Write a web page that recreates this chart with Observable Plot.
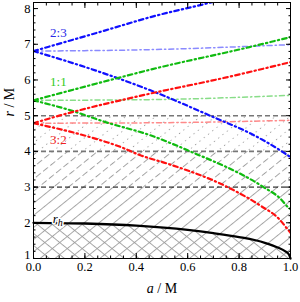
<!DOCTYPE html>
<html><head><meta charset="utf-8">
<script src="https://cdn.jsdelivr.net/npm/d3@7"></script>
<script src="https://cdn.jsdelivr.net/npm/@observablehq/plot@0.6"></script>
<style>body{margin:0;background:#fff} #chart svg{display:block;background:#fff}</style>
</head><body><div id="chart"></div>
<script>
// horizon r_h(a)
const horizonA = [0, 0.2, 0.4, 0.6, 0.7, 0.8, 0.9, 0.95, 0.98, 0.995, 1];
const horizonR = [2, 1.98, 1.92, 1.8, 1.71, 1.6, 1.44, 1.31, 1.2, 1.1, 1.0];
// 2:3 (blue)
const blueUpA = [0, 0.28, 0.455, 0.69, 0.75];
const blueUpR = [6.81, 7.39, 7.76, 8.17, 8.28];
const blueFlatA = [0, 0.455, 1];
const blueFlatR = [6.81, 6.85, 6.99];
const blueDownA = [0, 0.26, 0.455, 0.70, 0.845, 0.96, 1];
const blueDownR = [6.81, 6.22, 5.71, 4.96, 4.50, 4.03, 3.84];
// 1:1 (green)
const greenUpA = [0, 0.32, 0.455, 0.84, 1];
const greenUpR = [5.43, 6.04, 6.29, 6.92, 7.2];
const greenFlatA = [0, 0.455, 1];
const greenFlatR = [5.43, 5.45, 5.57];
const greenDownA = [0, 0.144, 0.28, 0.455, 0.6, 0.895, 0.96, 0.99, 1];
const greenDownR = [5.43, 5.15, 4.82, 4.45, 4.03, 3.0, 2.68, 2.44, 2.38];
// 3:2 (red)
const redUpA = [0, 0.1, 0.455, 0.73, 1];
const redUpR = [4.79, 5.0, 5.62, 6.04, 6.5];
const redFlatA = [0, 0.455, 1];
const redFlatR = [4.79, 4.80, 4.87];
const redDownA = [0, 0.22, 0.34, 0.416, 0.52, 0.755, 0.883, 0.955, 0.993, 1];
const redDownR = [4.79, 4.40, 4.12, 3.89, 3.66, 3.0, 2.48, 2.11, 1.78, 1.72];
// reference radii
const dashedRadii = [3, 4, 5];
// labels
const labelTexts = ["2:3", "1:1", "3:2", "rh"];
const labelA = [0.097, 0.097, 0.097, 0.094];
const labelR = [7.33, 5.96, 4.31, 2.12];
const labelColors = ["#2a2ae8", "#33cc22", "#ee2222", "#000"];
// ticks
const xMajor = [0, 0.2, 0.4, 0.6, 0.8, 1.0];
const xMinor = d3.range(0, 21).map(i => i / 20);
const yMajor = [1, 2, 3, 4, 5, 6, 7, 8];
const yMinor = d3.range(5, 41).map(i => i / 5);

const rows = (A, R) => A.map((a, i) => ({a, r: R[i]}));
const horizon = rows(horizonA, horizonR);
const line = (A, R, stroke, w, dash) => Plot.line(rows(A, R), {x: "a", y: "r", stroke, strokeWidth: w, strokeDasharray: dash, curve: "monotone-x", clip: true});
const mainDash = "4.5,3.2,1.3,3.2";
const flatDash = "5,3,1.3,3";
const labels = labelTexts.map((t, i) => ({t, a: labelA[i], r: labelR[i], c: labelColors[i]}));
const band = [{a: 0}, {a: 1}];

const chart = Plot.plot({
  width: 300, height: 302,
  marginLeft: 33, marginRight: 10, marginTop: 2, marginBottom: 44,
  x: {domain: [0, 1], label: null},
  y: {domain: [1, 8.17], label: null},
  style: {fontFamily: "Liberation Serif", fontSize: "12.5px", color: "#000", background: "#fff"},
  marks: [
    Plot.areaY(horizon, {x: "a", y1: 1, y2: "r", fill: "url(#hA)"}),
    Plot.areaY(horizon, {x: "a", y1: 1, y2: "r", fill: "url(#hB)"}),
    Plot.areaY(horizon, {x: "a", y1: "r", y2: 3, fill: "url(#hA)"}),
    Plot.areaY(band, {x: "a", y1: 3, y2: 4, fill: "url(#hDash)"}),
    Plot.areaY(band, {x: "a", y1: 4, y2: 5, fill: "url(#hDot)"}),
    Plot.ruleY(dashedRadii, {stroke: d => d === 3 ? "#000" : "#777", strokeWidth: d => d === 3 ? 1 : 1.6, strokeDasharray: "5,3"}),
    Plot.line(horizon, {x: "a", y: "r", stroke: "#000", strokeWidth: 2.3, curve: "monotone-x"}),
    line(blueFlatA, blueFlatR, "#8a8aff", 1.5, flatDash),
    line(greenFlatA, greenFlatR, "#88dd88", 1.5, flatDash),
    line(redFlatA, redFlatR, "#ff8a8a", 1.5, flatDash),
    line(blueUpA, blueUpR, "#1010ff", 2.2, mainDash),
    line(blueDownA, blueDownR, "#1010ff", 2.2, mainDash),
    line(greenUpA, greenUpR, "#10bb10", 2.2, mainDash),
    line(greenDownA, greenDownR, "#10bb10", 2.2, mainDash),
    line(redUpA, redUpR, "#ff1010", 2.2, mainDash),
    line(redDownA, redDownR, "#ff1010", 2.2, mainDash),
    Plot.text(labels, {x: "a", y: "r", text: "t", fill: "c", fontSize: 13, stroke: d => d.t === "rh" ? "#fff" : "none", strokeWidth: 3, className: "lbl"}),
    Plot.frame({stroke: "#000", strokeWidth: 1}),
    Plot.axisX(xMajor, {anchor: "bottom", tickSize: -5, tickPadding: 9, tickFormat: d3.format(".1f"), label: null}),
    Plot.axisX(xMinor, {anchor: "bottom", tickSize: -2.5, tickFormat: () => "", label: null}),
    Plot.axisX(xMajor, {anchor: "top", tickSize: -5, tickFormat: () => "", label: null}),
    Plot.axisX(xMinor, {anchor: "top", tickSize: -2.5, tickFormat: () => "", label: null}),
    Plot.axisY(yMajor, {anchor: "left", tickSize: -5, tickPadding: 8, tickFormat: d => d === 1 ? "" : d, label: null}),
    Plot.axisY([1], {anchor: "left", tickSize: 0, tickPadding: 3, dy: -4, tickFormat: d => d, label: null}),
    Plot.axisY(yMinor, {anchor: "left", tickSize: -2.5, tickFormat: () => "", label: null}),
    Plot.axisY(yMajor, {anchor: "right", tickSize: -5, tickFormat: () => "", label: null}),
    Plot.axisY(yMinor, {anchor: "right", tickSize: -2.5, tickFormat: () => "", label: null}),
    Plot.text(["a / M"], {frameAnchor: "bottom", dy: 34, fontSize: 14, className: "xlab"}),
    Plot.text(["r / M"], {frameAnchor: "left", dx: -24, dy: -14, rotate: -90, fontSize: 14, className: "ylab"})
  ]
});

// hatch patterns
const defs = d3.select(chart).insert("defs", ":first-child");
function pat(id, angle, w, h, len, color, sw) {
  const p = defs.append("pattern").attr("id", id).attr("patternUnits", "userSpaceOnUse")
    .attr("width", w).attr("height", h).attr("patternTransform", `rotate(${angle})`);
  p.append("line").attr("x1", 0).attr("y1", 0.5).attr("x2", len).attr("y2", 0.5)
    .attr("stroke", color).attr("stroke-width", sw);
}
pat("hA", -39, 20, 9.4, 20, "#9a9a9a", 0.9);
pat("hB", 39, 20, 9.4, 20, "#9a9a9a", 0.9);
pat("hDash", -39, 9.3, 9.4, 6.3, "#9a9a9a", 0.9);
pat("hDot", -39, 5.5, 9.4, 1.2, "#9a9a9a", 1);

// italic variable names
function italicize(sel, varName, rest) {
  d3.select(chart).selectAll(sel).each(function() {
    const t = d3.select(this);
    t.text(null);
    t.append("tspan").attr("font-style", "italic").text(varName);
    t.append("tspan").text(rest);
  });
}
italicize(".xlab text", "a", " / M");
italicize(".ylab text", "r", " / M");
d3.select(chart).selectAll(".lbl text").each(function() {
  const t = d3.select(this);
  if (t.text() === "rh") {
    t.text(null);
    t.append("tspan").attr("font-style", "italic").text("r");
    t.append("tspan").attr("font-style", "italic").attr("font-size", 10).attr("dy", 3).text("h");
  }
});
document.getElementById("chart").appendChild(chart);
</script>
</body></html>
